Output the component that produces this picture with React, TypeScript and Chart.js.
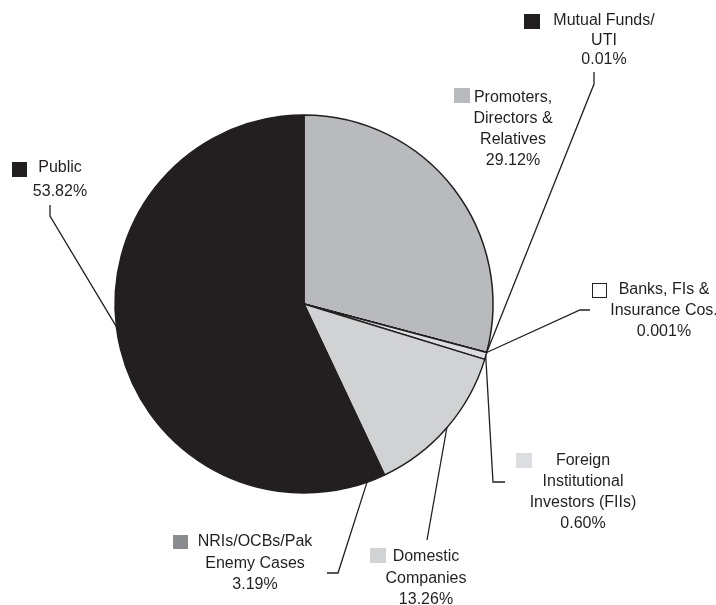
import React, { useEffect, useRef } from "react";
import { Chart, registerables } from "chart.js";

Chart.register(...registerables);

// ---- data ----
const categories = [
  "Promoters, Directors & Relatives",
  "Mutual Funds/UTI",
  "Banks, FIs & Insurance Cos.",
  "Foreign Institutional Investors (FIIs)",
  "Domestic Companies",
  "NRIs/OCBs/Pak Enemy Cases",
  "Public",
];
const shares = [29.12, 0.01, 0.001, 0.6, 13.26, 3.19, 53.82];
const shareLabels = ["29.12%", "0.01%", "0.001%", "0.60%", "13.26%", "3.19%", "53.82%"];
const labelLines = [
  ["Promoters,", "Directors &", "Relatives"],
  ["Mutual Funds/", "UTI"],
  ["Banks, FIs &", "Insurance Cos."],
  ["Foreign", "Institutional", "Investors (FIIs)"],
  ["Domestic", "Companies"],
  ["NRIs/OCBs/Pak", "Enemy Cases"],
  ["Public"],
];

// ---- styles ----
const INK = "#231f20";
const sliceColors = ["#b9babd", INK, "#ffffff", "#dcdde0", "#d1d2d4", INK, INK];
const swatchColors = ["#b9babd", INK, "#ffffff", "#dcdde0", "#d1d2d4", "#8b8c8f", INK];

// label layout: text centre x, first line centre y, line height, swatch rect, leader points (label side first)
const labelLayout = [
  { cx: 513, y0: 98, lh: 21, sw: [454, 88, 16, 15], leader: [] as number[][] },
  { cx: 604, y0: 21, lh: 19.5, sw: [524, 14, 16, 15], leader: [[594, 72], [594, 84]] },
  { cx: 664, y0: 290, lh: 21, sw: [592, 283, 15, 15], leader: [[590, 310], [580, 310]] },
  { cx: 583, y0: 461, lh: 20.7, sw: [516, 453, 16, 15], leader: [[505, 482], [493, 482]] },
  { cx: 426, y0: 557, lh: 21.5, sw: [370, 548, 16, 15], leader: [[427, 540]] },
  { cx: 255, y0: 542, lh: 21.5, sw: [173, 535, 15, 14], leader: [[327, 573], [338, 573]] },
  { cx: 60, y0: 168, lh: 23.5, sw: [12, 162, 15, 15], leader: [[50, 205], [50, 216]] },
];

const FONT = '16px "Liberation Sans", Arial, Helvetica, sans-serif';

const labelPlugin = {
  id: "shareLabels",
  afterDraw(chart: any) {
    const ctx = chart.ctx;
    const meta = chart.getDatasetMeta(0);
    ctx.save();
    // leader lines
    ctx.strokeStyle = INK;
    ctx.lineWidth = 1.3;
    ctx.lineJoin = "miter";
    meta.data.forEach((arc: any, i: number) => {
      const L = labelLayout[i];
      if (!L.leader.length) return;
      const p = arc.getProps(["x", "y", "startAngle", "endAngle", "outerRadius"], true);
      const mid = (p.startAngle + p.endAngle) / 2;
      const ax = p.x + p.outerRadius * Math.cos(mid);
      const ay = p.y + p.outerRadius * Math.sin(mid);
      ctx.beginPath();
      ctx.moveTo(L.leader[0][0], L.leader[0][1]);
      for (let k = 1; k < L.leader.length; k++) ctx.lineTo(L.leader[k][0], L.leader[k][1]);
      ctx.lineTo(ax, ay);
      ctx.stroke();
    });
    // labels
    ctx.font = FONT;
    ctx.textAlign = "center";
    ctx.textBaseline = "middle";
    categories.forEach((_, i) => {
      const L = labelLayout[i];
      const [sx, sy, sw, sh] = L.sw;
      ctx.fillStyle = swatchColors[i];
      ctx.fillRect(sx, sy, sw, sh);
      if (swatchColors[i] === "#ffffff") {
        ctx.strokeStyle = INK;
        ctx.lineWidth = 1;
        ctx.strokeRect(sx + 0.5, sy + 0.5, sw - 1, sh - 1);
      }
      ctx.fillStyle = INK;
      const lines = [...labelLines[i], shareLabels[i]];
      lines.forEach((t, k) => {
        ctx.fillText(t, L.cx, L.y0 + k * L.lh);
      });
    });
    ctx.restore();
  },
};

export default function App() {
  const ref = useRef<HTMLCanvasElement>(null);
  useEffect(() => {
    if (!ref.current) return;
    const chart = new Chart(ref.current, {
      type: "pie",
      data: {
        labels: categories,
        datasets: [
          {
            data: shares,
            backgroundColor: sliceColors,
            borderColor: INK,
            borderWidth: 1.5,
            radius: 189,
          } as any,
        ],
      },
      options: {
        responsive: false,
        animation: false,
        devicePixelRatio: 1,
        layout: { padding: { left: 115, right: 223, top: 115, bottom: 112 } },
        plugins: {
          legend: { display: false },
          tooltip: { enabled: false },
        },
        events: [],
      },
      plugins: [labelPlugin],
    });
    return () => chart.destroy();
  }, []);
  return (
    <div style={{ position: "absolute", left: 0, top: 0, width: 716, height: 605, background: "#fff" }}>
      <canvas ref={ref} width={716} height={605} style={{ display: "block" }} />
    </div>
  );
}
